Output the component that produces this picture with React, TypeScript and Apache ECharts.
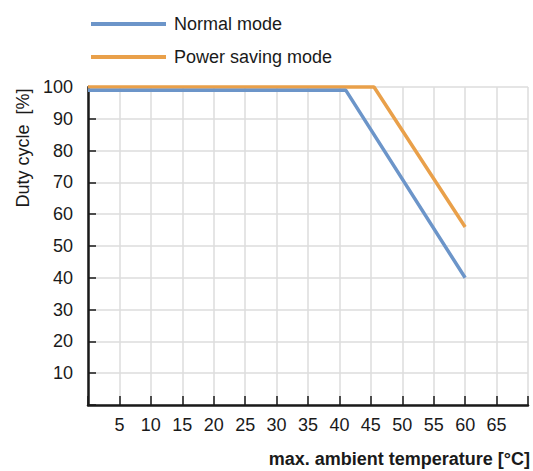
import React, { useEffect, useRef } from "react";
import * as echarts from "echarts";

const normalTemp = [0, 41, 60];
const normalDuty = [99, 99, 40];
const savingTemp = [0, 45.5, 60];
const savingDuty = [100, 100, 56];
const seriesNames = ["Normal mode", "Power saving mode"];
const xAxisTitle = "max. ambient temperature [°C]";
const yAxisTitle = "Duty cycle  [%]";

const FONT = "'Liberation Sans', Arial, Helvetica, sans-serif";
const BLUE = "#6c95c9";
const ORANGE = "#e9a04a";

export default function App() {
  const ref = useRef<HTMLDivElement>(null);
  useEffect(() => {
    if (!ref.current) return;
    const chart = echarts.init(ref.current, undefined, { renderer: "svg" });
    const normalData = normalTemp.map((t, i) => [t, normalDuty[i]]);
    const savingData = savingTemp.map((t, i) => [t, savingDuty[i]]);
    chart.setOption({
      animation: false,
      backgroundColor: "#ffffff",
      textStyle: { fontFamily: FONT },
      legend: {
        orient: "vertical",
        left: 86,
        top: 10,
        icon: "rect",
        itemWidth: 75,
        itemHeight: 4,
        itemGap: 15,
        data: seriesNames,
        textStyle: {
          fontFamily: FONT,
          fontSize: 18,
          color: "#1a1a1a",
          lineHeight: 18,
          padding: [0, 0, 0, 3],
        },
      },
      grid: { left: 88, right: 0, top: 87, bottom: 66, containLabel: false },
      xAxis: {
        type: "value",
        min: 0,
        max: 70,
        interval: 5,
        name: xAxisTitle,
        nameLocation: "end",
        nameGap: 2,
        nameTextStyle: {
          fontFamily: FONT,
          fontSize: 18,
          fontWeight: "bold",
          color: "#1a1a1a",
          align: "right",
          verticalAlign: "top",
          padding: [45, 0, 0, 0],
        },
        axisLine: { show: true, lineStyle: { color: "#1a1a1a", width: 2.5 } },
        axisTick: { show: true, inside: true, length: 9, lineStyle: { color: "#1a1a1a", width: 1.5 } },
        axisLabel: {
          fontFamily: FONT,
          fontSize: 18,
          color: "#1a1a1a",
          margin: 11,
          formatter: (v: number) => (v === 0 || v === 70 ? "" : String(v)),
        },
        splitLine: { show: true, lineStyle: { color: "#dcdcdc", width: 1.5 } },
      },
      yAxis: {
        type: "value",
        min: 0,
        max: 100,
        interval: 10,
        axisLine: { show: true, lineStyle: { color: "#1a1a1a", width: 2.5 } },
        axisTick: { show: true, inside: true, length: 8, lineStyle: { color: "#1a1a1a", width: 1.5 } },
        axisLabel: {
          fontFamily: FONT,
          fontSize: 18,
          color: "#1a1a1a",
          margin: 15,
          formatter: (v: number) => (v === 0 ? "" : String(v)),
        },
        splitLine: { show: true, lineStyle: { color: "#dcdcdc", width: 1.5 } },
      },
      graphic: [
        {
          type: "text",
          x: 23,
          y: 148,
          rotation: Math.PI / 2,
          style: {
            text: yAxisTitle,
            fontFamily: FONT,
            fontSize: 18,
            fill: "#1a1a1a",
            align: "center",
            verticalAlign: "middle",
          },
        },
      ],
      series: [
        {
          name: seriesNames[0],
          type: "line",
          data: normalData,
          showSymbol: false,
          symbol: "none",
          clip: false,
          z: 3,
          itemStyle: { color: BLUE },
          lineStyle: { color: BLUE, width: 3.5 },
        },
        {
          name: seriesNames[1],
          type: "line",
          data: savingData,
          showSymbol: false,
          symbol: "none",
          clip: false,
          z: 2,
          itemStyle: { color: ORANGE },
          lineStyle: { color: ORANGE, width: 3.5 },
        },
      ],
    });
    return () => chart.dispose();
  }, []);
  return (
    <div
      ref={ref}
      style={{ position: "absolute", left: 0, top: 0, width: 533, height: 471, background: "#fff" }}
    />
  );
}
